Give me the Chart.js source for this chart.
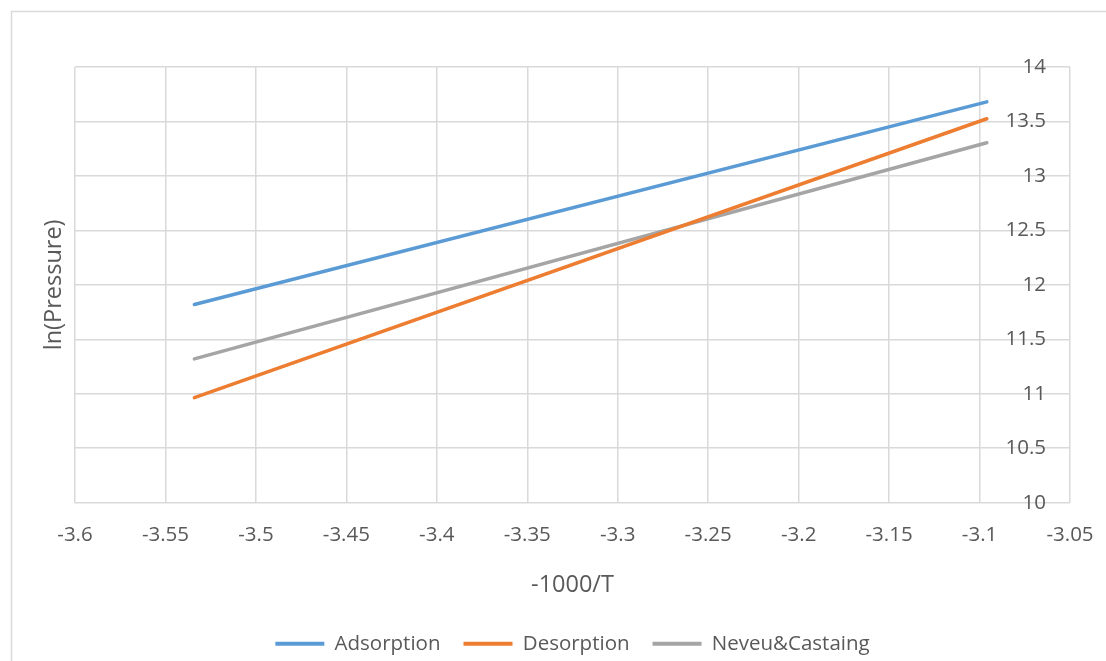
<!DOCTYPE html>
<html>
<head>
<meta charset="utf-8">
<title>ln(Pressure) vs -1000/T</title>
<script src="https://cdn.jsdelivr.net/npm/chart.js@4.4.1/dist/chart.umd.min.js"></script>
<style>
  html, body { margin: 0; padding: 0; background: #ffffff; }
  #wrap { width: 1106px; height: 661px; position: relative; }
</style>
</head>
<body>
<div id="wrap"><canvas id="chart" width="1106" height="661"></canvas></div>
<script>
// Inverse temperature (x) and ln(P) values of the three fitted lines
const invTemp = [-3.534, -3.096];
const adsorption = [11.82, 13.68];
const desorption = [10.965, 13.525];
const neveuCastaing = [11.32, 13.305];

const seriesNames = ['Adsorption', 'Desorption', 'Neveu&Castaing'];
const seriesColors = ['#5B9BD5', '#ED7D31', '#A5A5A5'];

const xTickValues = [-3.6, -3.55, -3.5, -3.45, -3.4, -3.35, -3.3, -3.25, -3.2, -3.15, -3.1, -3.05];
const yTickValues = [10, 10.5, 11, 11.5, 12, 12.5, 13, 13.5, 14];

const xTitle = '-1000/T';
const yTitle = 'ln(Pressure)';

const FONT = "'Open Sans', 'DejaVu Sans', sans-serif";
const TEXT = '#595959';
const GRID = '#d9d9d9';

function toPoints(xs, ys) {
  return xs.map((x, i) => ({ x: x, y: ys[i] }));
}

function fmt(v) {
  return String(Number(v.toFixed(2)));
}

const seriesValues = [adsorption, desorption, neveuCastaing];
const datasets = seriesNames.map((name, i) => ({
  label: name,
  data: toPoints(invTemp, seriesValues[i]),
  borderColor: seriesColors[i],
  backgroundColor: seriesColors[i],
  borderWidth: 3.5,
  borderCapStyle: 'round',
  pointRadius: 0,
  pointHoverRadius: 0,
  showLine: true,
  tension: 0
}));

// Frame around the chart, y tick labels sitting inside the plot's right edge,
// and the rotated y-axis title on the left
const decorations = {
  id: 'decorations',
  beforeDraw(chart) {
    const ctx = chart.ctx;
    ctx.save();
    ctx.fillStyle = '#ffffff';
    ctx.fillRect(0, 0, chart.width, chart.height);
    ctx.strokeStyle = GRID;
    ctx.lineWidth = 1.5;
    ctx.beginPath();
    ctx.moveTo(11.5, chart.height);
    ctx.lineTo(11.5, 11.5);
    ctx.lineTo(chart.width, 11.5);
    ctx.stroke();
    ctx.restore();
  },
  afterDraw(chart) {
    const ctx = chart.ctx;
    const area = chart.chartArea;
    const yScale = chart.scales.y;
    ctx.save();
    ctx.font = '20.5px ' + FONT;
    ctx.fillStyle = TEXT;
    ctx.textAlign = 'right';
    ctx.textBaseline = 'middle';
    yTickValues.forEach(v => {
      ctx.fillText(fmt(v), area.right - 24, yScale.getPixelForValue(v));
    });
    ctx.restore();

    ctx.save();
    ctx.translate(54, (area.top + area.bottom) / 2);
    ctx.rotate(-Math.PI / 2);
    ctx.font = '23.5px ' + FONT;
    ctx.fillStyle = TEXT;
    ctx.textAlign = 'center';
    ctx.textBaseline = 'middle';
    ctx.fillText(yTitle, 0, 0);
    ctx.restore();
  }
};

new Chart(document.getElementById('chart'), {
  type: 'scatter',
  data: { datasets: datasets },
  plugins: [decorations],
  options: {
    responsive: false,
    animation: false,
    devicePixelRatio: 1,
    layout: { padding: { left: 75, right: 36, top: 67, bottom: -3 } },
    plugins: {
      tooltip: { enabled: false },
      legend: {
        position: 'bottom',
        labels: {
          color: TEXT,
          font: { family: FONT, size: 20.5 },
          boxWidth: 49,
          boxHeight: 4,
          padding: 23,
          generateLabels(chart) {
            return chart.data.datasets.map((ds, i) => ({
              text: ds.label,
              fillStyle: ds.borderColor,
              strokeStyle: ds.borderColor,
              lineWidth: 0,
              hidden: false,
              datasetIndex: i,
              fontColor: TEXT
            }));
          }
        }
      }
    },
    scales: {
      x: {
        type: 'linear',
        min: xTickValues[0],
        max: xTickValues[xTickValues.length - 1],
        afterBuildTicks(scale) {
          scale.ticks = xTickValues.map(v => ({ value: v }));
        },
        afterFit(scale) {
          scale.paddingLeft = 0;
          scale.paddingRight = 0;
        },
        grid: { color: GRID, lineWidth: 1.5, drawTicks: false },
        border: { display: false },
        ticks: {
          color: TEXT,
          font: { family: FONT, size: 20.5 },
          padding: 20,
          maxRotation: 0,
          autoSkip: false,
          callback: (v) => fmt(v)
        },
        title: {
          display: true,
          text: xTitle,
          color: TEXT,
          font: { family: FONT, size: 23.5 },
          padding: { top: 4, bottom: 11 }
        }
      },
      y: {
        type: 'linear',
        position: 'right',
        min: yTickValues[0],
        max: yTickValues[yTickValues.length - 1],
        afterBuildTicks(scale) {
          scale.ticks = yTickValues.map(v => ({ value: v }));
        },
        afterFit(scale) {
          scale.width = 0;
        },
        grid: { color: GRID, lineWidth: 1.5, drawTicks: false },
        border: { display: false },
        ticks: { display: false }
      }
    }
  }
});
</script>
</body>
</html>
